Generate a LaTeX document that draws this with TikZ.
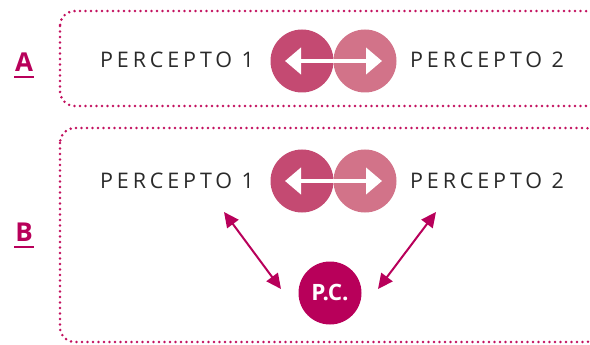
\documentclass[tikz,border=0pt]{standalone}
\usepackage{fontspec}
\setmainfont{Open Sans}
\usetikzlibrary{arrows.meta}
\definecolor{mag}{HTML}{B8005A}
\definecolor{dotc}{HTML}{C2105E}
\definecolor{cleft}{HTML}{C44A72}
\definecolor{cright}{HTML}{D27389}
\definecolor{txt}{HTML}{2A2A2A}
\begin{document}
\begin{tikzpicture}[x=1pt,y=-1pt,
  dotbox/.style={draw=dotc, line width=2.8pt, line cap=round, dash pattern=on 0pt off 5.5pt, rounded corners=15pt},
  ptext/.style={text=txt, font=\fontsize{21.5}{24}\selectfont\addfontfeatures{LetterSpace=18}, inner sep=0pt, anchor=base west},
  lbl/.style={text=mag, font=\fontsize{26}{28}\selectfont\bfseries, inner sep=0pt},
  disc/.style={circle, minimum size=63pt, inner sep=0pt},
  conn/.style={draw=mag, line width=2pt, {Triangle[length=15pt,width=14pt]}-{Triangle[length=15pt,width=14pt]}},
  wa/.style={draw=white, line width=4.5pt, {Triangle[length=16pt,width=26pt]}-{Triangle[length=16pt,width=26pt]}}
]
\useasboundingbox (0,0) rectangle (590,345);
% boxes
\draw[dotbox] (60,11) rectangle (600,106);
\draw[dotbox] (60,128) rectangle (600,342);
% labels
\node[lbl] (A) at (24,62) {A};
\draw[mag, line width=2pt] (14,77) -- (34,77);
\node[lbl] (B) at (24,232) {B};
\draw[mag, line width=2pt] (14,247) -- (34,247);
% row A
\node[disc, fill=cleft] (a1) at (302,61) {};
\node[disc, fill=cright] (a2) at (365,61) {};
\draw[wa] ([xshift=-17pt]a1.center) -- ([xshift=17pt]a2.center);
\node[ptext] (pa1) at (100,68) {PERCEPTO 1};
\node[ptext] (pa2) at (410,68) {PERCEPTO 2};
% row B
\node[disc, fill=cleft] (b1) at (302,181) {};
\node[disc, fill=cright] (b2) at (365,181) {};
\draw[wa] ([xshift=-17pt]b1.center) -- ([xshift=17pt]b2.center);
\node[ptext] (pb1) at (100,188) {PERCEPTO 1};
\node[ptext] (pb2) at (410,188) {PERCEPTO 2};
\node[disc, fill=mag, text=white, font=\fontsize{22.5}{24}\selectfont\bfseries] (pc) at (330,293) {P.C.};
\coordinate (l1) at (224,212);
\coordinate (l2) at (281,289);
\coordinate (r1) at (436,212);
\coordinate (r2) at (378,289);
\draw[conn] (l1) -- (l2);
\draw[conn] (r1) -- (r2);
\end{tikzpicture}
\end{document}
